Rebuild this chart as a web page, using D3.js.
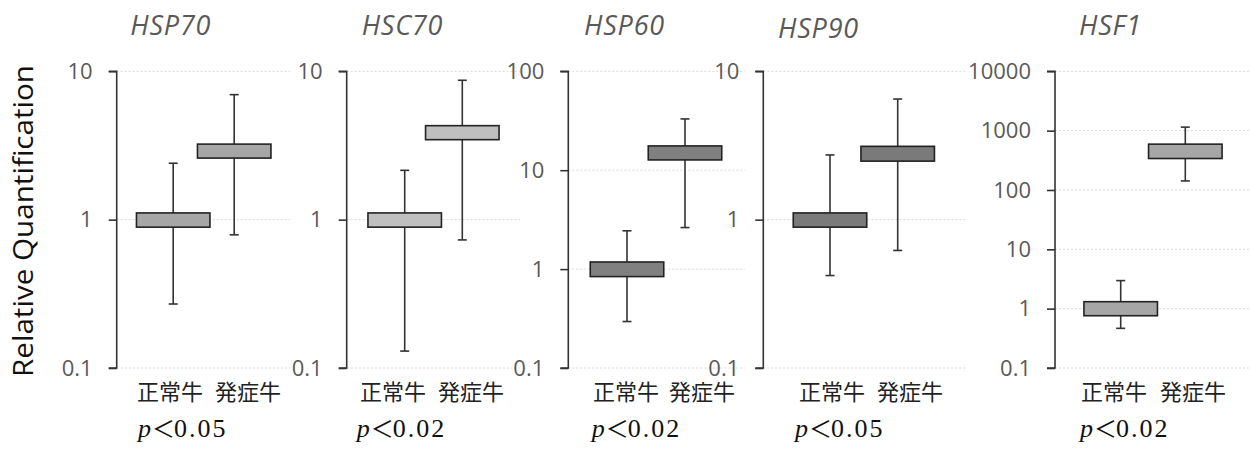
<!DOCTYPE html>
<html>
<head>
<meta charset="utf-8">
<script src="https://cdn.jsdelivr.net/npm/d3@7"></script>
<style>
  body { margin: 0; background: #fff; }
  svg { display: block; }
</style>
</head>
<body>
<svg id="chart" width="1250" height="451"></svg>
<script>
// ---------- data ----------
const genes = ["HSP70", "HSC70", "HSP60", "HSP90", "HSF1"];
const categories = ["正常牛", "発症牛"];
const pLabels = ["0.05", "0.02", "0.02", "0.05", "0.02"];
const yTickValues = [
  [0.1, 1, 10],
  [0.1, 1, 10],
  [0.1, 1, 10, 100],
  [0.1, 1, 10],
  [0.1, 1, 10, 100, 1000, 10000]
];
// box bottom / top, whisker low / high  (per gene: [正常牛, 発症牛])
const boxLow = [[0.89, 2.6], [0.89, 3.46], [0.84, 12.7], [0.89, 2.48], [0.76, 339]];
const boxHigh = [[1.11, 3.23], [1.11, 4.3], [1.18, 17.6], [1.11, 3.12], [1.31, 592]];
const whiskerLow = [[0.27, 0.79], [0.13, 0.73], [0.295, 2.63], [0.42, 0.62], [0.466, 142]];
const whiskerHigh = [[2.4, 6.96], [2.15, 8.7], [2.44, 33], [2.73, 6.5], [2.97, 1146]];

// ---------- layout / style ----------
const boxFill = ["#a6a6a6", "#bfbfbf", "#808080", "#7a7a7a", "#a6a6a6"];
const axisX = [116.7, 346.7, 568.3, 763.3, 1055];
const boxOffsets = [[56.5, 117.5], [58, 115.6], [58.7, 116.7], [66.7, 134.4], [65.7, 130.3]];
const labelOffsets = [[53.3, 131.3], [46.3, 124.3], [57.7, 133.7], [68.7, 146.7], [59, 138]];
const gridEnd = [290, 520, 745, 967, 1250];
const titleX = [170.8, 402.5, 624.5, 818.5, 1110.5];
const titleY = [35, 35, 35, 38, 35];
const pX = [138, 356.7, 591.7, 795, 1080];
const yTop = 71.3, yBottom = 368;
const boxWidth = 73.5, capHalf = 4.5;

const svg = d3.select("#chart");

// y-axis title
svg.append("text")
  .attr("transform", "translate(33,221) rotate(-90)")
  .attr("text-anchor", "middle")
  .attr("font-family", "Open Sans, sans-serif")
  .attr("font-size", 28)
  .attr("fill", "#111")
  .attr("textLength", 312)
  .attr("lengthAdjust", "spacingAndGlyphs")
  .text("Relative Quantification");

genes.forEach((gene, i) => {
  const ticks = yTickValues[i];
  const y = d3.scaleLog()
    .domain([d3.min(ticks), d3.max(ticks)])
    .range([yBottom, yTop]);
  const x = d3.scalePoint().domain(categories).range([axisX[i] + boxOffsets[i][0], axisX[i] + boxOffsets[i][1]]);
  const xl = d3.scalePoint().domain(categories).range([axisX[i] + labelOffsets[i][0], axisX[i] + labelOffsets[i][1]]);

  const g = svg.append("g");

  // gridlines
  g.selectAll("line.grid").data(ticks).join("line")
    .attr("class", "grid")
    .attr("x1", axisX[i]).attr("x2", gridEnd[i])
    .attr("y1", d => y(d)).attr("y2", d => y(d))
    .attr("stroke", "#d9d9d9")
    .attr("stroke-width", 1)
    .attr("stroke-dasharray", "2,2");

  // axis
  const axis = d3.axisLeft(y)
    .tickValues(ticks)
    .tickSize(8)
    .tickPadding(16)
    .tickFormat(d => d3.format("~g")(d));
  const ag = g.append("g")
    .attr("transform", `translate(${axisX[i]},0)`)
    .call(axis);
  ag.select(".domain").attr("stroke", "#333").attr("stroke-width", 1.6).attr("d", `M-8,${yTop}H0V${yBottom}H-8`);
  ag.selectAll(".tick line").attr("stroke", "#333").attr("stroke-width", 1.6);
  ag.selectAll(".tick text")
    .attr("font-family", "Open Sans, sans-serif")
    .attr("font-size", 22)
    .attr("fill", "#595959");

  // whiskers
  categories.forEach((c, j) => {
    const cx = x(c);
    const wg = g.append("g").attr("stroke", "#333").attr("stroke-width", 1.6);
    wg.append("line").attr("x1", cx).attr("x2", cx)
      .attr("y1", y(whiskerHigh[i][j])).attr("y2", y(whiskerLow[i][j]));
    wg.append("line").attr("x1", cx - capHalf).attr("x2", cx + capHalf)
      .attr("y1", y(whiskerHigh[i][j])).attr("y2", y(whiskerHigh[i][j]));
    wg.append("line").attr("x1", cx - capHalf).attr("x2", cx + capHalf)
      .attr("y1", y(whiskerLow[i][j])).attr("y2", y(whiskerLow[i][j]));
  });
  // boxes
  categories.forEach((c, j) => {
    const cx = x(c);
    g.append("rect")
      .attr("x", cx - boxWidth / 2)
      .attr("width", boxWidth)
      .attr("y", y(boxHigh[i][j]))
      .attr("height", y(boxLow[i][j]) - y(boxHigh[i][j]))
      .attr("fill", boxFill[i])
      .attr("stroke", "#222")
      .attr("stroke-width", 1.6);
  });

  // category labels
  g.selectAll("text.cat").data(categories).join("text")
    .attr("class", "cat")
    .attr("x", d => xl(d))
    .attr("y", 400)
    .attr("text-anchor", "middle")
    .attr("font-family", "Noto Sans CJK JP, sans-serif")
    .attr("font-size", 22)
    .attr("fill", "#222")
    .text(d => d);

  // title
  g.append("text")
    .attr("x", titleX[i]).attr("y", titleY[i])
    .attr("text-anchor", "middle")
    .attr("font-family", "Open Sans, sans-serif")
    .attr("font-style", "italic")
    .attr("font-size", 27)
    .attr("fill", "#595959")
    .attr("letter-spacing", 0.8)
    .text(gene);

  // p value
  const pt = g.append("text")
    .attr("x", pX[i]).attr("y", 437)
    .attr("font-family", "Liberation Serif, serif")
    .attr("font-size", 26)
    .attr("fill", "#111");
  pt.append("tspan").attr("font-style", "italic").text("p");
  pt.append("tspan").attr("font-family", "Noto Sans CJK JP, sans-serif").attr("font-size", 23).attr("dx", 1).text("＜");
  pt.append("tspan").attr("letter-spacing", 2).attr("dx", -1).text(pLabels[i]);
});
</script>
</body>
</html>
